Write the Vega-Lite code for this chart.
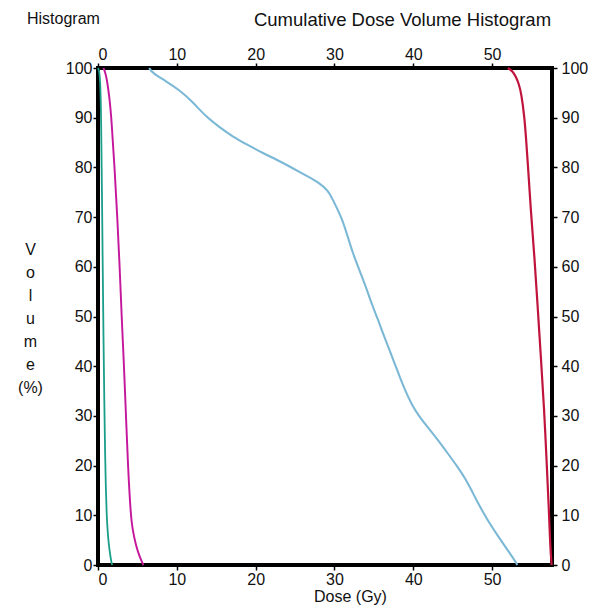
{
  "$schema": "https://vega.github.io/schema/vega-lite/v6.json",
  "width": 454,
  "height": 497,
  "autosize": {"type": "none"},
  "padding": {"left": 98, "top": 68, "right": 50, "bottom": 43},
  "background": "white",
  "config": {
    "font": "Liberation Sans",
    "view": {"stroke": "black", "strokeWidth": 4},
    "axis": {
      "domain": false,
      "grid": false,
      "tickColor": "black",
      "tickSize": 5,
      "tickWidth": 1.5,
      "labelFont": "Liberation Sans",
      "labelFontSize": 16,
      "labelColor": "#111111",
      "labelPadding": 1,
      "titleFont": "Liberation Sans",
      "titleFontWeight": "normal",
      "titleColor": "#111111",
      "titleFontSize": 16
    }
  },
  "title": {
    "text": "Histogram",
    "anchor": "start",
    "frame": "group",
    "dx": -71,
    "offset": -17,
    "fontSize": 16,
    "fontWeight": "normal",
    "font": "Liberation Sans",
    "color": "#111111"
  },
  "data": {
    "values": [
      {"structure": "s1", "dose": 0, "volume": 100},
      {"structure": "s1", "dose": 0.15, "volume": 99.5},
      {"structure": "s1", "dose": 0.3, "volume": 97},
      {"structure": "s1", "dose": 0.4, "volume": 90},
      {"structure": "s1", "dose": 0.5, "volume": 75},
      {"structure": "s1", "dose": 0.6, "volume": 60},
      {"structure": "s1", "dose": 0.7, "volume": 45},
      {"structure": "s1", "dose": 0.8, "volume": 33},
      {"structure": "s1", "dose": 0.9, "volume": 22},
      {"structure": "s1", "dose": 1.0, "volume": 15},
      {"structure": "s1", "dose": 1.1, "volume": 10},
      {"structure": "s1", "dose": 1.25, "volume": 6},
      {"structure": "s1", "dose": 1.45, "volume": 3},
      {"structure": "s1", "dose": 1.7, "volume": 0.5},
      {"structure": "s1", "dose": 1.8, "volume": 0},

      {"structure": "s2", "dose": 0.7, "volume": 100},
      {"structure": "s2", "dose": 0.95, "volume": 99},
      {"structure": "s2", "dose": 1.2, "volume": 97},
      {"structure": "s2", "dose": 1.45, "volume": 94},
      {"structure": "s2", "dose": 1.7, "volume": 90},
      {"structure": "s2", "dose": 2.1, "volume": 80},
      {"structure": "s2", "dose": 2.45, "volume": 70},
      {"structure": "s2", "dose": 2.75, "volume": 60},
      {"structure": "s2", "dose": 3.0, "volume": 50},
      {"structure": "s2", "dose": 3.3, "volume": 40},
      {"structure": "s2", "dose": 3.55, "volume": 30},
      {"structure": "s2", "dose": 3.8, "volume": 20},
      {"structure": "s2", "dose": 4.15, "volume": 10},
      {"structure": "s2", "dose": 4.4, "volume": 7},
      {"structure": "s2", "dose": 4.8, "volume": 4},
      {"structure": "s2", "dose": 5.2, "volume": 2},
      {"structure": "s2", "dose": 5.75, "volume": 0},

      {"structure": "s3", "dose": 6.5, "volume": 100},
      {"structure": "s3", "dose": 6.9, "volume": 99},
      {"structure": "s3", "dose": 8.5, "volume": 97.5},
      {"structure": "s3", "dose": 10.3, "volume": 95.6},
      {"structure": "s3", "dose": 12, "volume": 93.2},
      {"structure": "s3", "dose": 13.7, "volume": 90.2},
      {"structure": "s3", "dose": 15.5, "volume": 88},
      {"structure": "s3", "dose": 17.1, "volume": 86.2},
      {"structure": "s3", "dose": 19, "volume": 84.5},
      {"structure": "s3", "dose": 20.9, "volume": 82.9},
      {"structure": "s3", "dose": 22.6, "volume": 81.6},
      {"structure": "s3", "dose": 24.3, "volume": 80.2},
      {"structure": "s3", "dose": 26, "volume": 78.7},
      {"structure": "s3", "dose": 28.1, "volume": 76.9},
      {"structure": "s3", "dose": 29.2, "volume": 75.3},
      {"structure": "s3", "dose": 29.8, "volume": 73.5},
      {"structure": "s3", "dose": 30.4, "volume": 71.5},
      {"structure": "s3", "dose": 31.0, "volume": 69.5},
      {"structure": "s3", "dose": 31.7, "volume": 66},
      {"structure": "s3", "dose": 32.3, "volume": 62.9},
      {"structure": "s3", "dose": 33.0, "volume": 60},
      {"structure": "s3", "dose": 33.6, "volume": 57.5},
      {"structure": "s3", "dose": 34.2, "volume": 55},
      {"structure": "s3", "dose": 34.8, "volume": 52.2},
      {"structure": "s3", "dose": 35.5, "volume": 49.5},
      {"structure": "s3", "dose": 36.1, "volume": 46.8},
      {"structure": "s3", "dose": 36.8, "volume": 44},
      {"structure": "s3", "dose": 37.4, "volume": 41.5},
      {"structure": "s3", "dose": 38.2, "volume": 38.2},
      {"structure": "s3", "dose": 39.0, "volume": 35},
      {"structure": "s3", "dose": 39.8, "volume": 32.3},
      {"structure": "s3", "dose": 40.7, "volume": 30},
      {"structure": "s3", "dose": 41.8, "volume": 27.8},
      {"structure": "s3", "dose": 43.1, "volume": 25.2},
      {"structure": "s3", "dose": 44.4, "volume": 22.4},
      {"structure": "s3", "dose": 45.6, "volume": 19.8},
      {"structure": "s3", "dose": 46.6, "volume": 17.4},
      {"structure": "s3", "dose": 47.4, "volume": 15},
      {"structure": "s3", "dose": 48.1, "volume": 12.8},
      {"structure": "s3", "dose": 48.9, "volume": 10.5},
      {"structure": "s3", "dose": 49.8, "volume": 8.1},
      {"structure": "s3", "dose": 50.8, "volume": 5.7},
      {"structure": "s3", "dose": 51.8, "volume": 3.4},
      {"structure": "s3", "dose": 52.4, "volume": 2},
      {"structure": "s3", "dose": 52.8, "volume": 1.1},
      {"structure": "s3", "dose": 53.2, "volume": 0},

      {"structure": "s4", "dose": 52.0, "volume": 100},
      {"structure": "s4", "dose": 52.6, "volume": 99.4},
      {"structure": "s4", "dose": 53.0, "volume": 98.3},
      {"structure": "s4", "dose": 53.4, "volume": 96.8},
      {"structure": "s4", "dose": 53.7, "volume": 94.9},
      {"structure": "s4", "dose": 54.1, "volume": 90.2},
      {"structure": "s4", "dose": 54.3, "volume": 86},
      {"structure": "s4", "dose": 54.5, "volume": 81.6},
      {"structure": "s4", "dose": 54.9, "volume": 71.5},
      {"structure": "s4", "dose": 55.4, "volume": 61.5},
      {"structure": "s4", "dose": 55.8, "volume": 51.5},
      {"structure": "s4", "dose": 56.2, "volume": 41.5},
      {"structure": "s4", "dose": 56.6, "volume": 31.5},
      {"structure": "s4", "dose": 56.9, "volume": 21.4},
      {"structure": "s4", "dose": 57.2, "volume": 11.4},
      {"structure": "s4", "dose": 57.35, "volume": 5},
      {"structure": "s4", "dose": 57.45, "volume": 2.1},
      {"structure": "s4", "dose": 57.55, "volume": 0}
    ]
  },
  "layer": [
    {
      "mark": {"type": "line", "interpolate": "basis"},
      "encoding": {
        "x": {
          "field": "dose",
          "type": "quantitative",
          "scale": {"domain": [0, 57.6], "nice": false, "zero": false},
          "axis": {
            "orient": "bottom",
            "values": [0, 10, 20, 30, 40, 50],
            "title": "Dose (Gy)",
            "titleX": 252,
            "titleY": 31,
            "titleBaseline": "middle",
            "titleAlign": "center"
          }
        },
        "y": {
          "field": "volume",
          "type": "quantitative",
          "scale": {"domain": [0, 100], "nice": false},
          "axis": {
            "orient": "left",
            "values": [0, 10, 20, 30, 40, 50, 60, 70, 80, 90, 100],
            "title": ["V", "o", "l", "u", "m", "e", "(%)"],
            "titleAngle": 0,
            "titleX": -68,
            "titleY": 181,
            "titleBaseline": "middle",
            "titleAlign": "center",
            "titleLineHeight": 23
          }
        },
        "color": {
          "field": "structure",
          "type": "nominal",
          "scale": {"domain": ["s1", "s2", "s3", "s4"], "range": ["#1a9e8a", "#c4179c", "#7ab8d6", "#c0143c"]},
          "legend": null
        },
        "strokeWidth": {
          "field": "structure",
          "type": "nominal",
          "scale": {"domain": ["s1", "s2", "s3", "s4"], "range": [1.8, 2.2, 1.6, 2.6]},
          "legend": null
        }
      }
    },
    {
      "mark": {"type": "line", "opacity": 0},
      "encoding": {
        "x": {
          "field": "dose",
          "type": "quantitative",
          "axis": {
            "orient": "top",
            "values": [0, 10, 20, 30, 40, 50],
            "title": "Cumulative Dose Volume Histogram",
            "titleX": 304,
            "titleY": -49,
            "titleBaseline": "middle",
            "titleAlign": "center",
            "titleFontSize": 18.5
          }
        },
        "y": {
          "field": "volume",
          "type": "quantitative",
          "axis": {
            "orient": "right",
            "values": [0, 10, 20, 30, 40, 50, 60, 70, 80, 90, 100],
            "title": null,
            "labelPadding": 4
          }
        },
        "detail": {"field": "structure", "type": "nominal"}
      }
    }
  ],
  "resolve": {"axis": {"x": "independent", "y": "independent"}}
}
